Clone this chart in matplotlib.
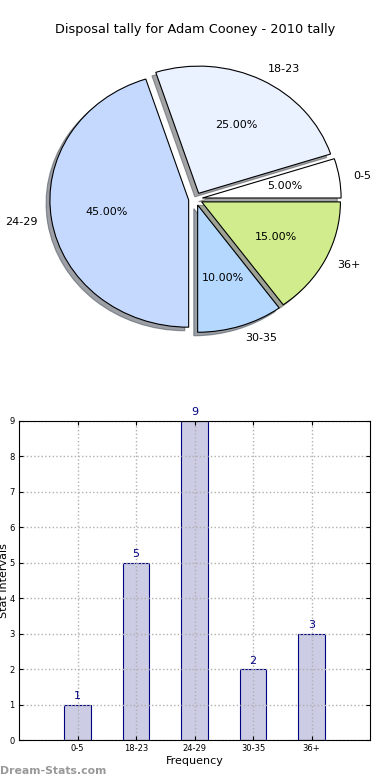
import matplotlib
matplotlib.use("Agg")
import matplotlib.pyplot as plt

# data
categories = ["0-5", "18-23", "24-29", "30-35", "36+"]
counts = [1, 5, 9, 2, 3]
pie_colors = ["#ffffff", "#eaf1ff", "#c5d9ff", "#b5d8ff", "#d0ec8c"]
title = "Disposal tally for Adam Cooney - 2010 tally"

fig = plt.figure(figsize=(3.9, 7.8), dpi=100)

# pie chart (old style: not forced to a circle)
ax1 = fig.add_axes([20 / 390, 1 - 358 / 780, 351 / 390, 318 / 780])
wedges, texts, autotexts = ax1.pie(
    counts, labels=categories, colors=pie_colors, explode=[0.05] * 5,
    autopct="%1.2f%%", shadow=True, startangle=0, labeldistance=1.1,
    pctdistance=0.6, wedgeprops=dict(edgecolor="black", linewidth=0.8),
    textprops=dict(fontsize=8))
for t in texts:
    t.set_horizontalalignment("left" if t.get_position()[0] > 0 else "right")
ax1.set_aspect("auto")
ax1.set_xlim(-1.265, 1.265)
ax1.set_ylim(-1.25, 1.25)
ax1.set_axis_off()
fig.text(0.5, 1 - 30 / 780, title, ha="center", va="center", fontsize=9.3)

# bar chart
ax2 = fig.add_axes([19 / 390, 1 - 740 / 780, 351 / 390, 319 / 780])
xs = list(range(len(categories)))
ax2.bar(xs, counts, width=0.45, color="#cccce4",
        edgecolor="#000080", linewidth=0.8, zorder=1)
for x, c in zip(xs, counts):
    ax2.text(x, c + 0.1, str(c), ha="center", va="bottom",
             fontsize=8, color="#000080")
ax2.set_xlim(-1, 5)
ax2.set_ylim(0, 9)
ax2.set_xticks(xs)
ax2.set_xticklabels(categories)
ax2.set_yticks(range(10))
ax2.tick_params(labelsize=6, direction="in", length=3, top=True, right=True,
                pad=3)
ax2.grid(True, linestyle=":", color="#b0b0b0", linewidth=1, zorder=3)
ax2.set_axisbelow(False)
for sp in ax2.spines.values():
    sp.set_zorder(5)
ax2.set_xlabel("Frequency", fontsize=8, labelpad=2)
ax2.set_ylabel("Stat Intervals", fontsize=8, labelpad=0)

fig.text(0.0, 1 - 771 / 780, "Dream-Stats.com", ha="left", va="center",
         fontsize=7.8, color="#999999", fontweight="bold")

fig.savefig("out.png", dpi=100)
